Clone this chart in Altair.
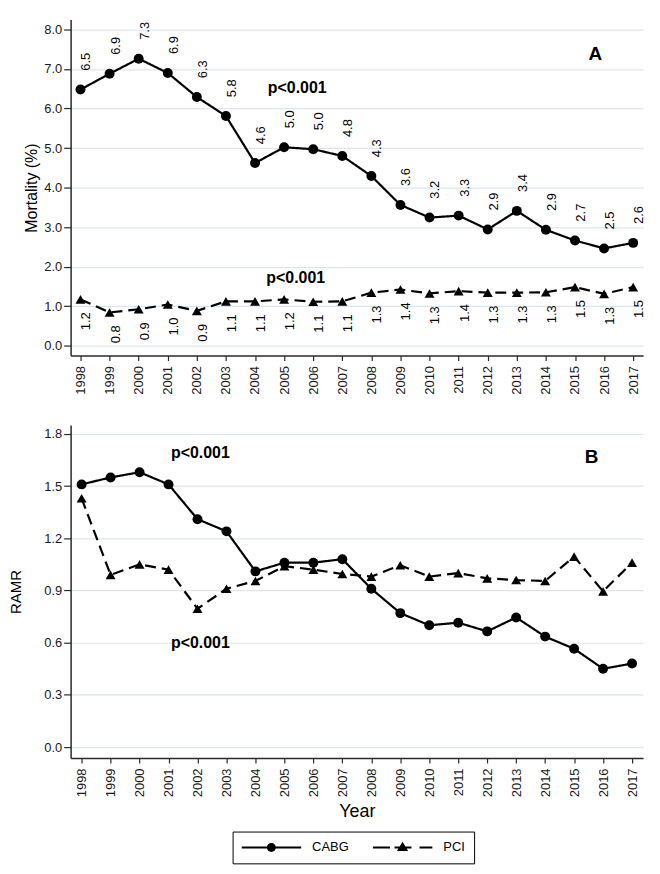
import altair as alt
import pandas as pd

# ---------------- data ----------------
years = list(range(1998, 2018))
series = ["CABG", "PCI"]

# Panel A: in-hospital mortality (%)
mort_cabg = [6.48, 6.88, 7.26, 6.90, 6.29, 5.81, 4.62, 5.02, 4.97, 4.80,
             4.29, 3.56, 3.24, 3.29, 2.94, 3.41, 2.93, 2.66, 2.46, 2.60]
mort_cabg_lbl = ["6.5", "6.9", "7.3", "6.9", "6.3", "5.8", "4.6", "5.0", "5.0", "4.8",
                 "4.3", "3.6", "3.2", "3.3", "2.9", "3.4", "2.9", "2.7", "2.5", "2.6"]
mort_pci = [1.17, 0.84, 0.92, 1.04, 0.88, 1.12, 1.12, 1.17, 1.11, 1.12,
            1.34, 1.42, 1.32, 1.38, 1.34, 1.34, 1.35, 1.48, 1.31, 1.48]
mort_pci_lbl = ["1.2", "0.8", "0.9", "1.0", "0.9", "1.1", "1.1", "1.2", "1.1", "1.1",
                "1.3", "1.4", "1.3", "1.4", "1.3", "1.3", "1.3", "1.5", "1.3", "1.5"]

# Panel B: risk-adjusted mortality ratio
ramr_cabg = [1.51, 1.55, 1.58, 1.51, 1.31, 1.24, 1.01, 1.06, 1.06, 1.08,
             0.91, 0.77, 0.70, 0.715, 0.665, 0.745, 0.635, 0.565, 0.45, 0.48]
ramr_pci = [1.43, 0.99, 1.05, 1.02, 0.795, 0.91, 0.955, 1.04, 1.02, 0.995,
            0.98, 1.045, 0.98, 1.00, 0.97, 0.96, 0.955, 1.095, 0.895, 1.06]

mort_ticks = [0, 1, 2, 3, 4, 5, 6, 7, 8]
ramr_ticks = [0, 0.3, 0.6, 0.9, 1.2, 1.5, 1.8]

# annotations (text, year position, value position)
notes_a_text = ["p<0.001", "p<0.001"]
notes_a_year = [2005.45, 2005.4]
notes_a_val = [6.52, 1.71]
panel_a_tag = ("A", 2015.7, 7.37)

notes_b_text = ["p<0.001", "p<0.001"]
notes_b_year = [2002.1, 2002.1]
notes_b_val = [1.69, 0.60]
panel_b_tag = ("B", 2015.6, 1.67)

# ---------------- tables ----------------
rows = []
for i, yr in enumerate(years):
    rows.append(dict(year=yr, series="CABG", mort=mort_cabg[i], mlabel=mort_cabg_lbl[i], ramr=ramr_cabg[i]))
    rows.append(dict(year=yr, series="PCI", mort=mort_pci[i], mlabel=mort_pci_lbl[i], ramr=ramr_pci[i]))
df = pd.DataFrame(rows)

notes_a = pd.DataFrame(dict(year=notes_a_year, mort=notes_a_val, text=notes_a_text))
tag_a = pd.DataFrame(dict(year=[panel_a_tag[1]], mort=[panel_a_tag[2]], text=[panel_a_tag[0]]))
notes_b = pd.DataFrame(dict(year=notes_b_year, ramr=notes_b_val, text=notes_b_text))
tag_b = pd.DataFrame(dict(year=[panel_b_tag[1]], ramr=[panel_b_tag[2]], text=[panel_b_tag[0]]))

# ---------------- styles ----------------
FONT = "Liberation Sans"
AXIS_COL = "#2a2a2a"
GRID_COL = "#dae7ef"
dashes = [[1, 0], [11, 6]]
shapes = ["circle", "triangle-up"]
# legend keys drawn as filled shapes: line pieces are thin rectangles (all clockwise -> union fill)
legend_paths = [
    "M-1,-0.035H1V0.035H-1Z"
    "M0.15,0A0.15,0.15,0,1,1,-0.15,0A0.15,0.15,0,1,1,0.15,0Z",
    "M-1,-0.035H-0.42V0.035H-1Z"
    "M-0.27,-0.035H0.3V0.035H-0.27Z"
    "M0.57,-0.035H1V0.035H0.57Z"
    "M0,-0.19L0.19,0.12L-0.19,0.12Z",
]

def x_enc(domain, title, tsize):
    return alt.X(
        "year:Q",
        scale=alt.Scale(domain=domain, nice=False, zero=False),
        axis=alt.Axis(values=years, format="d", labelAngle=270, grid=False,
                      tickSize=5, labelPadding=5, labelFontSize=13,
                      title=title, titleFontSize=tsize, titleFontWeight="normal",
                      titlePadding=6, titleColor="black"),
    )

def y_enc(field, domain, ticks, title, tsize, tpad):
    return alt.Y(
        f"{field}:Q",
        scale=alt.Scale(domain=domain, nice=False, zero=False),
        axis=alt.Axis(values=ticks, format=".1f", grid=True, gridColor=GRID_COL,
                      gridWidth=1.2, tickSize=7, labelPadding=2, labelFontSize=13,
                      title=title, titleFontSize=tsize, titleFontWeight="normal",
                      titlePadding=tpad, titleColor="black"),
    )

dash_enc = alt.StrokeDash("series:N", scale=alt.Scale(domain=series, range=dashes), legend=None)
shape_enc = alt.Shape("series:N", scale=alt.Scale(domain=series, range=shapes), legend=None)

# ---------------- panel A ----------------
xA = x_enc([1997.66, 2017.34], None, 16)
yA = y_enc("mort", [-0.25, 8.25], mort_ticks, "Mortality (%)", 16, 4)
baseA = alt.Chart(df).encode(x=xA, y=yA)

linesA = baseA.mark_line(color="black", strokeWidth=2.2).encode(strokeDash=dash_enc, detail="series:N")
pointsA = baseA.mark_point(filled=True, color="black", opacity=1, size=100).encode(shape=shape_enc)
lblA_c = baseA.transform_filter("datum.series == 'CABG'").mark_text(
    angle=270, align="left", baseline="middle", dx=19, dy=6, fontSize=13, font=FONT, color="black"
).encode(text="mlabel:N")
lblA_p = baseA.transform_filter("datum.series == 'PCI'").mark_text(
    angle=270, align="right", baseline="middle", dx=-13, dy=6, fontSize=13, font=FONT, color="black"
).encode(text="mlabel:N")
notesA = alt.Chart(notes_a).mark_text(fontSize=16, fontWeight="bold", font=FONT, color="black").encode(
    x=xA, y=yA, text="text:N")
tagA = alt.Chart(tag_a).mark_text(fontSize=19, fontWeight="bold", font=FONT, color="black").encode(
    x=xA, y=yA, text="text:N")

panelA = alt.layer(linesA, pointsA, lblA_c, lblA_p, notesA, tagA).properties(width=576, height=338)

# ---------------- panel B ----------------
xB = x_enc([1997.62, 2017.38], "Year", 18)
yB = y_enc("ramr", [-0.063, 1.851], ramr_ticks, "RAMR", 15, 20)
baseB = alt.Chart(df).encode(x=xB, y=yB)

linesB = baseB.mark_line(color="black", strokeWidth=2.2).encode(strokeDash=dash_enc, detail="series:N")
pointsB = baseB.mark_point(filled=True, color="black", opacity=1, size=100).encode(shape=shape_enc)
# legend-only layer: no marks drawn (filtered out), legend built from the explicit scale domain
legendB = baseB.transform_filter("datum.year < 0").mark_point(
    filled=True, fill="black", size=3600, opacity=1
).encode(
    shape=alt.Shape(
        "series:N",
        scale=alt.Scale(domain=series, range=legend_paths),
        legend=alt.Legend(
            title=None, orient="none", legendX=163, legendY=409, direction="horizontal",
            strokeColor="black", fillColor="white", padding=9,
            labelFont=FONT, labelFontSize=13, labelColor="black", labelOffset=11,
            columnPadding=24, symbolSize=3600, symbolFillColor="black",
            symbolStrokeWidth=0, symbolOpacity=1, clipHeight=14,
        ),
    )
)
notesB = alt.Chart(notes_b).mark_text(fontSize=16, fontWeight="bold", font=FONT, color="black").encode(
    x=xB, y=yB, text="text:N")
tagB = alt.Chart(tag_b).mark_text(fontSize=19, fontWeight="bold", font=FONT, color="black").encode(
    x=xB, y=yB, text="text:N")

panelB = alt.layer(linesB, pointsB, legendB, notesB, tagB).resolve_scale(shape="independent").properties(
    width=576, height=335)

chart = alt.vconcat(panelA, panelB, spacing=31).properties(
    padding={"left": 0, "top": 9, "right": 5, "bottom": 0}
).configure_view(stroke=None).configure_axis(
    domainColor=AXIS_COL, domainWidth=1.5, tickColor=AXIS_COL, tickWidth=1.2,
    labelColor="#1a1a1a", labelFont=FONT, titleFont=FONT,
)

chart.save("out.html", embed_options={"renderer": "svg", "actions": False})
